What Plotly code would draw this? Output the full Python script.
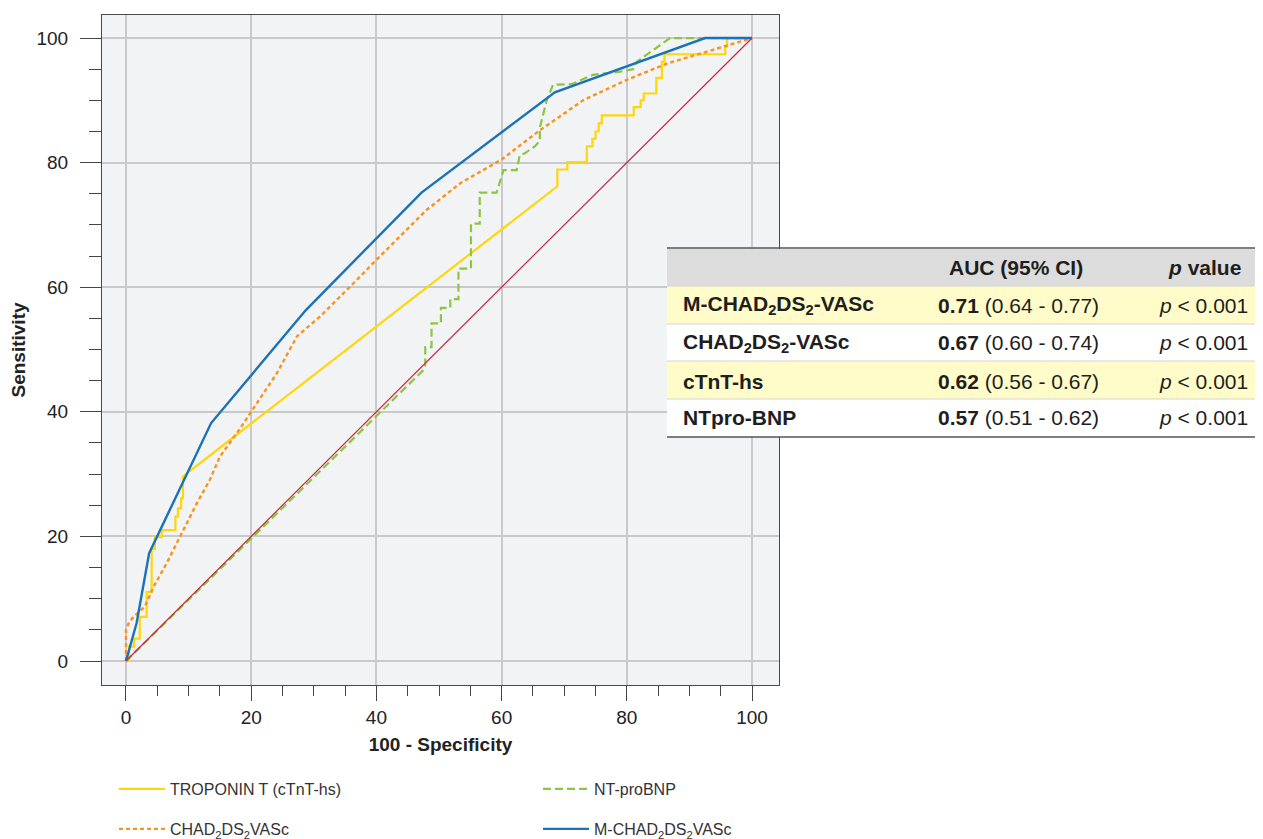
import plotly.graph_objects as go

# ---------------- data ----------------
ref_x = [0, 100]
ref_y = [0, 100]

tnt_x = [0, 0.5, 0.5, 1.3, 1.3, 2.2, 2.2, 3.3, 3.3, 4.1, 4.1, 4.6, 4.6, 5.7, 5.7, 7.9, 7.9, 8.3, 8.3,
         8.8, 8.8, 9.1, 9.1, 10.2, 68.9, 68.9, 70.5, 70.5, 73.6, 73.6, 74.5, 74.5, 75.0, 75.0, 75.5,
         75.5, 76.0, 76.0, 81.1, 81.1, 82.2, 82.2, 82.7, 82.7, 84.7, 84.7, 85.6, 85.6, 86.0, 86.0,
         95.7, 95.7, 96.0, 96.0, 100]
tnt_y = [0, 0, 2.3, 2.3, 3.6, 3.6, 7.1, 7.1, 11.1, 11.1, 18.0, 18.0, 19.9, 19.9, 21.0, 21.0, 23.2,
         23.2, 24.5, 24.5, 26.1, 26.1, 29.6, 30.5, 76.2, 78.9, 78.9, 80.1, 80.1, 82.6, 82.6, 83.8,
         83.8, 85.0, 85.0, 86.3, 86.3, 87.6, 87.6, 88.9, 88.9, 90.0, 90.0, 91.1, 91.1, 93.6, 93.6,
         96.2, 96.2, 97.4, 97.4, 98.6, 98.6, 100, 100]

bnp_x = [0, 47.5, 47.8, 47.8, 48.8, 48.8, 50.3, 50.3, 51.8, 51.8, 53.1, 53.1, 55.1, 55.1, 56.5,
         56.5, 59.2, 60.0, 60.3, 62.4, 62.9, 63.7, 65.3, 66.1, 66.1, 67.2, 68.2, 71.2, 74.6, 78.9,
         81.0, 81.6, 86.9, 100]
bnp_y = [0, 46.7, 47.5, 50.4, 50.4, 54.2, 54.2, 56.7, 56.7, 58.1, 58.1, 63.0, 63.0, 70.2, 70.2,
         75.2, 75.2, 78.0, 78.8, 78.8, 81.2, 81.5, 82.6, 83.5, 85.6, 90.0, 92.5, 92.6, 94.1, 94.6,
         95.0, 96.2, 100, 100]

chad_x = [0, 0, 0.4, 1.2, 3.0, 4.4, 6.5, 8.6, 11.3, 13.4, 15.0, 18.2, 20.9, 24.1, 27.3, 31.0, 36.3,
          40.0, 48.0, 53.4, 60.0, 66.1, 73.0, 80.0, 86.4, 92.8, 100]
chad_y = [0, 5.0, 6.0, 7.1, 8.7, 11.9, 15.7, 20.0, 25.3, 29.1, 32.8, 37.3, 41.4, 46.2, 52.1, 55.3,
          60.6, 64.4, 72.4, 76.7, 80.5, 85.2, 90.0, 93.3, 95.9, 97.8, 100]

mchad_x = [0, 1.7, 3.7, 13.6, 28.7, 47.2, 68.5, 92.5, 100]
mchad_y = [0, 6.1, 17.3, 38.2, 56.3, 75.2, 91.3, 100, 100]

x_ticks = [0, 20, 40, 60, 80, 100]
y_ticks = [0, 20, 40, 60, 80, 100]

tbl_header = ["", "AUC (95% CI)", "<i>p</i> value"]
tbl_names = ["M-CHAD<sub>2</sub>DS<sub>2</sub>-VASc", "CHAD<sub>2</sub>DS<sub>2</sub>-VASc",
             "cTnT-hs", "NTpro-BNP"]
tbl_auc = ["0.71", "0.67", "0.62", "0.57"]
tbl_ci = ["(0.64 - 0.77)", "(0.60 - 0.74)", "(0.56 - 0.67)", "(0.51 - 0.62)"]
tbl_p = ["&lt; 0.001", "&lt; 0.001", "&lt; 0.001", "&lt; 0.001"]

# ---------------- layout helpers (page pixel -> figure) ----------------
OFF = 8                      # default page body margin
W, H = 1263 - OFF, 839 - OFF
PL, PR, PT, PB = 102 - OFF, 779 - OFF, 15 - OFF, 685 - OFF


def px(v):
    return (v - OFF - PL) / (PR - PL)


def py(v):
    return (PB - (v - OFF)) / (PB - PT)


FONT = "Liberation Sans, Arial, sans-serif"

fig = go.Figure()

fig.add_trace(go.Scatter(x=tnt_x, y=tnt_y, mode="lines", name="TROPONIN T (cTnT-hs)",
                         line=dict(color="#ffd60a", width=2.2), legend="legend"))
fig.add_trace(go.Scatter(x=bnp_x, y=bnp_y, mode="lines", name="NT-proBNP",
                         line=dict(color="#8cc63e", width=2.2, dash="8px,4px"), legend="legend2"))
fig.add_trace(go.Scatter(x=chad_x, y=chad_y, mode="lines", name="CHAD<sub>2</sub>DS<sub>2</sub>VASc",
                         line=dict(color="#f7941d", width=2.4, dash="4px,3px"), legend="legend3"))
fig.add_trace(go.Scatter(x=mchad_x, y=mchad_y, mode="lines", name="M-CHAD<sub>2</sub>DS<sub>2</sub>VASc",
                         line=dict(color="#1a72b9", width=2.4), legend="legend4"))
fig.add_trace(go.Scatter(x=ref_x, y=ref_y, mode="lines", showlegend=False,
                         line=dict(color="#c8283c", width=1.2)))

axis_common = dict(
    showgrid=True, gridcolor="#c9c9cb", gridwidth=1.5,
    zeroline=False,
    showline=True, linecolor="#4a4a4a", linewidth=1.2, mirror=True,
    ticks="outside", tickcolor="#444", tickwidth=1,
    tickfont=dict(family=FONT, size=19, color="#222"),
)

fig.update_xaxes(range=[-3.83, 104.3], tickvals=x_ticks, ticklen=15,
                 minor=dict(dtick=5, ticks="outside", ticklen=10, tickcolor="#444", showgrid=False),
                 title=dict(text="<b>100 - Specificity</b>", font=dict(family=FONT, size=19, color="#222"),
                            standoff=10),
                 **axis_common)
fig.update_yaxes(range=[-3.85, 103.7], tickvals=y_ticks, ticklen=21,
                 minor=dict(dtick=5, ticks="outside", ticklen=12, tickcolor="#444", showgrid=False),
                 title=dict(text="<b>Sensitivity</b>", font=dict(family=FONT, size=19, color="#222"),
                            standoff=8),
                 ticklabelstandoff=8,
                 **axis_common)

leg_font = dict(family=FONT, size=16, color="#333")
legs = {}
for key, (lx, ly) in {"legend": (114, 789), "legend2": (538, 789),
                      "legend3": (114, 829), "legend4": (538, 829)}.items():
    legs[key] = dict(x=px(lx), y=py(ly), xanchor="left", yanchor="middle",
                     font=leg_font, bgcolor="rgba(0,0,0,0)", itemwidth=46)

# ---------------- table (shapes + annotations) ----------------
shapes = []
annotations = []
TL, TR = 667, 1263
rows = [(249, 286, "#dcdcdc"), (286, 324, "#fffcc9"), (324, 361, "#ffffff"),
        (361, 399, "#fffcc9"), (399, 437, "#ffffff")]
for (y0, y1, col) in rows:
    shapes.append(dict(type="rect", xref="paper", yref="paper", x0=px(TL), x1=px(TR),
                       y0=py(y1), y1=py(y0), fillcolor=col, line=dict(width=0), layer="above"))
for yy in [286, 324, 361, 399]:
    shapes.append(dict(type="line", xref="paper", yref="paper", x0=px(TL), x1=px(TR),
                       y0=py(yy), y1=py(yy), line=dict(color="#d4d4d4", width=1), layer="above"))
for yy in [248, 437]:
    shapes.append(dict(type="line", xref="paper", yref="paper", x0=px(TL), x1=px(TR),
                       y0=py(yy), y1=py(yy), line=dict(color="#555555", width=1.5), layer="above"))

tfont = dict(family=FONT, size=21, color="#1e1e1e")
annotations.append(dict(text="<b>" + tbl_header[1] + "</b>", x=px(1016), y=py(267), xref="paper",
                        yref="paper", showarrow=False, xanchor="center", yanchor="middle", font=tfont))
annotations.append(dict(text="<b>" + tbl_header[2] + "</b>", x=px(1243), y=py(267), xref="paper",
                        yref="paper", showarrow=False, xanchor="right", yanchor="middle", font=tfont))
row_c = [305, 343, 381, 418]
for i in range(4):
    annotations.append(dict(text="<b>" + tbl_names[i] + "</b>", x=px(681), y=py(row_c[i]),
                            xref="paper", yref="paper", showarrow=False, xanchor="left",
                            yanchor="middle", font=tfont))
    annotations.append(dict(text="<b>" + tbl_auc[i] + "</b> " + tbl_ci[i], x=px(936), y=py(row_c[i]),
                            xref="paper", yref="paper", showarrow=False, xanchor="left",
                            yanchor="middle", font=tfont))
    annotations.append(dict(text="<i>p</i> " + tbl_p[i], x=px(1250), y=py(row_c[i]),
                            xref="paper", yref="paper", showarrow=False, xanchor="right",
                            yanchor="middle", font=tfont))

fig.update_layout(
    width=W, height=H,
    margin=dict(l=PL, r=W - PR, t=PT, b=H - PB, autoexpand=False),
    plot_bgcolor="#f2f3f5", paper_bgcolor="#ffffff",
    font=dict(family=FONT, color="#222"),
    shapes=shapes, annotations=annotations,
    **legs,
)

fig.write_html("out.html")
